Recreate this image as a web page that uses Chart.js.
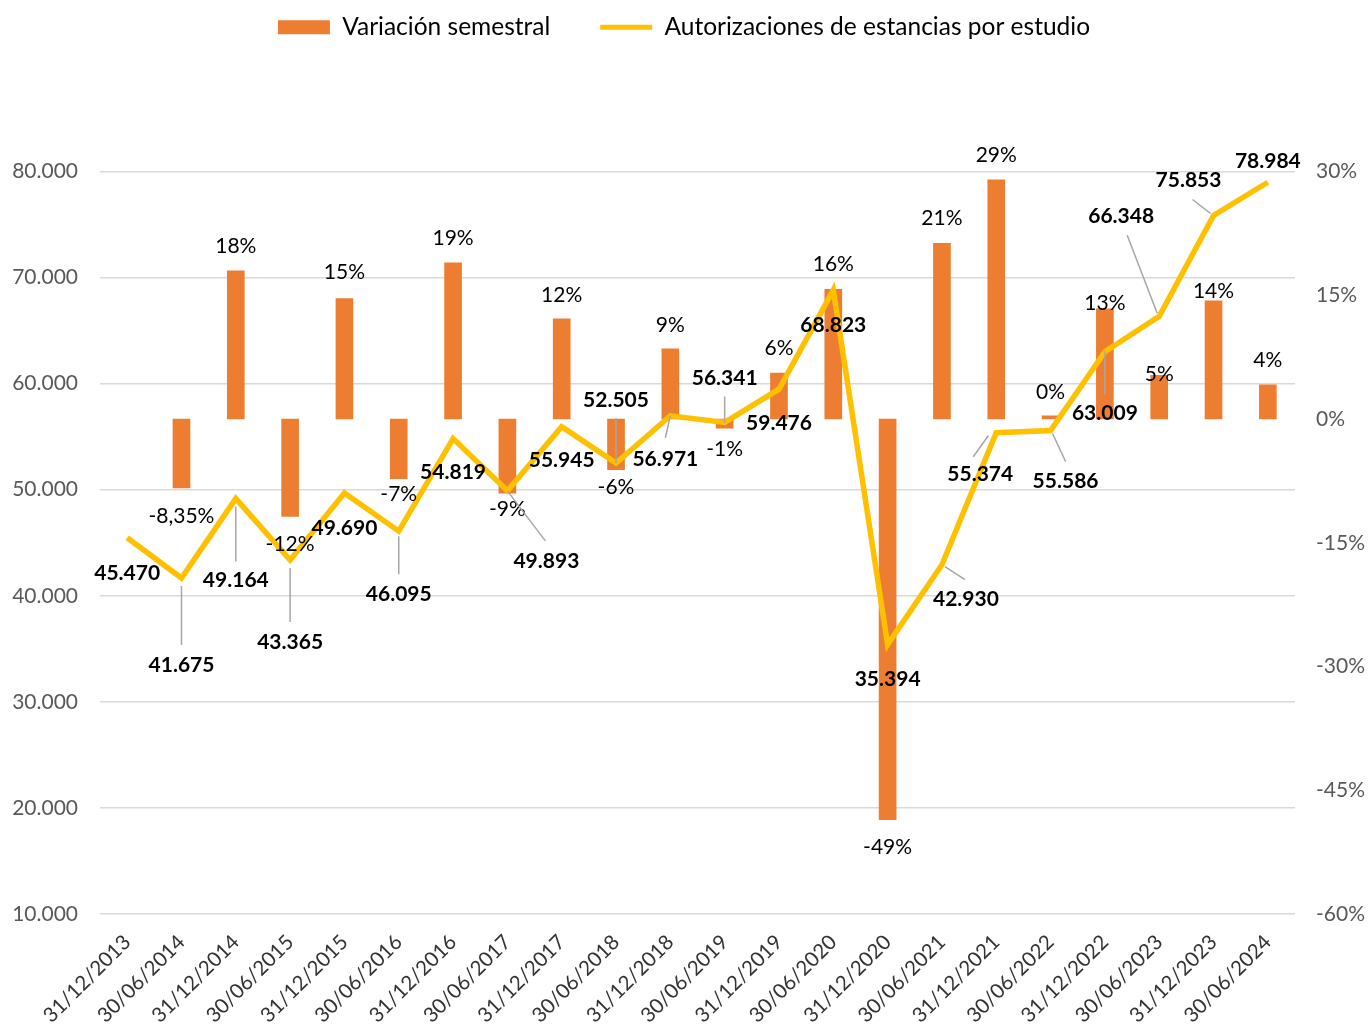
<!DOCTYPE html>
<html lang="es">
<head>
<meta charset="utf-8">
<title>Autorizaciones de estancias por estudio</title>
<script src="https://cdn.jsdelivr.net/npm/chart.js@4.4.1/dist/chart.umd.min.js"></script>
<style>
  html, body { margin: 0; padding: 0; background: #fff; }
  #wrap { width: 1368px; height: 1028px; position: relative; }
</style>
</head>
<body>
<div id="wrap"><canvas id="chart"></canvas></div>
<script>
// Fechas de corte semestrales
const periods = [
    '31/12/2013', '30/06/2014', '31/12/2014', '30/06/2015', '31/12/2015', '30/06/2016',
    '31/12/2016', '30/06/2017', '31/12/2017', '30/06/2018', '31/12/2018', '30/06/2019',
    '31/12/2019', '30/06/2020', '31/12/2020', '30/06/2021', '31/12/2021', '30/06/2022',
    '31/12/2022', '30/06/2023', '31/12/2023', '30/06/2024'
];

// Autorizaciones de estancias por estudio (eje izquierdo)
const authorizations = [
    45470, 41675, 49164, 43365, 49690, 46095, 54819, 49893, 55945, 52505, 56971,
    56341, 59476, 68823, 35394, 42930, 55374, 55586, 63009, 66348, 75853, 78984
];

// Variación semestral en % (eje derecho)
const semesterChange = [
    null, -8.35, 17.97, -11.80, 14.59, -7.23, 18.93, -8.99, 12.13, -6.15, 8.51,
    -1.11, 5.56, 15.72, -48.57, 21.29, 28.99, 0.38, 13.35, 5.30, 14.33, 4.13
];

const changeLabels = [
    '', '-8,35%', '18%', '-12%', '15%', '-7%', '19%', '-9%', '12%', '-6%', '9%',
    '-1%', '6%', '16%', '-49%', '21%', '29%', '0%', '13%', '5%', '14%', '4%'
];

const leftTicks = { min: 10000, max: 80000, step: 10000 };
const rightTicks = { min: -60, max: 30, step: 15 };

// Colores
const ORANGE = '#ED7D31';
const YELLOW = '#FFC000';
const LEADER = '#A6A6A6';
const FONT = 'Lato, "Open Sans", sans-serif';

// Posición de las etiquetas de la línea (desplazamiento respecto al punto)
const lineLabelOffset = [
    [0, 35], [0, 87], [0, 82], [0, 82], [0, 35], [0, 63], [0, 34], [39, 70], [0, 34], [0, -63], [-5, 43],
    [0, -44], [0, 34], [0, 35], [0, 35], [24, 35], [-16, 42], [15, 51], [0, 62], [-38, -100], [-25, -35], [0, -21]
];
// Líneas guía [dx1, dy1, dx2, dy2] respecto al punto
const lineLeader = {
    1: [0, 8, 0, 67], 2: [0, 8, 0, 63], 3: [0, 8, 0, 62], 5: [0, 5, 0, 43],
    7: [0, 0, 38, 50], 9: [0, 0, 0, -45], 10: [0, 0, -5, 22], 11: [0, 0, 0, -26],
    15: [3, 2, 23, 15], 16: [-8, 3, -23, 24], 17: [2, 3, 15, 31], 18: [0, 0, 0, 43],
    19: [-2, -3, -32, -81], 20: [-3, -2, -21, -16]
};
// Desplazamiento vertical de las etiquetas de barras respecto al extremo
const barLabelShift = [
    0, 28, -25, 28, -26, 16, -25, 16, -24, 17, -24,
    21, -25, -25, 28, -25, -25, -24, -6, -1, -10, -25
];

function thousands(v) {
    return String(v).replace(/\B(?=(\d{3})+(?!\d))/g, '.');
}

// Separación entre la leyenda y el área del gráfico
const legendGap = {
    id: 'legendGap',
    beforeLayout(chart) {
        const lg = chart.legend;
        if (lg && !lg._gapped) {
            const fit = lg.fit;
            lg.fit = function () { fit.call(this); this.height += 122; };
            lg._gapped = true;
        }
    }
};

// Etiquetas de datos al estilo Excel
const dataLabels = {
    id: 'dataLabels',
    afterDatasetsDraw(chart) {
        const ctx = chart.ctx;
        ctx.save();
        ctx.textAlign = 'center';
        ctx.textBaseline = 'middle';
        ctx.fillStyle = '#000';

        // barras
        const barMeta = chart.getDatasetMeta(0);
        ctx.font = '21px ' + FONT;
        barMeta.data.forEach((bar, i) => {
            const v = semesterChange[i];
            if (v === null) return;
            const y = (v >= 0 ? Math.min(bar.y, bar.base) : Math.max(bar.y, bar.base)) + barLabelShift[i];
            ctx.fillText(changeLabels[i], bar.x, y);
        });

        // línea
        const lineMeta = chart.getDatasetMeta(1);
        ctx.strokeStyle = LEADER;
        ctx.lineWidth = 1.5;
        lineMeta.data.forEach((pt, i) => {
            const ld = lineLeader[i];
            if (ld) {
                ctx.beginPath();
                ctx.moveTo(pt.x + ld[0], pt.y + ld[1]);
                ctx.lineTo(pt.x + ld[2], pt.y + ld[3]);
                ctx.stroke();
            }
        });
        ctx.font = 'bold 21px ' + FONT;
        lineMeta.data.forEach((pt, i) => {
            const off = lineLabelOffset[i];
            ctx.fillText(thousands(authorizations[i]), pt.x + off[0], pt.y + off[1]);
        });
        ctx.restore();
    }
};

new Chart(document.getElementById('chart'), {
    data: {
        labels: periods,
        datasets: [
            {
                type: 'bar',
                label: 'Variación semestral',
                data: semesterChange,
                backgroundColor: ORANGE,
                borderWidth: 0,
                barThickness: 17,
                yAxisID: 'y1',
                order: 1
            },
            {
                type: 'line',
                label: 'Autorizaciones de estancias por estudio',
                data: authorizations,
                borderColor: YELLOW,
                backgroundColor: YELLOW,
                borderWidth: 5.5,
                borderJoinStyle: 'miter',
                pointRadius: 0,
                tension: 0,
                yAxisID: 'y',
                order: 0
            }
        ]
    },
    options: {
        responsive: true,
        maintainAspectRatio: false,
        animation: false,
        layout: { padding: { top: -35, left: 0, right: 0, bottom: 0 } },
        plugins: {
            tooltip: { enabled: false },
            legend: {
                position: 'top',
                labels: {
                    usePointStyle: true,
                    pointStyleWidth: 52,
                    boxHeight: 14,
                    padding: 50,
                    color: '#000',
                    font: { family: FONT, size: 24.5 },
                    generateLabels: () => [
                        { text: 'Variación semestral', fillStyle: ORANGE, strokeStyle: ORANGE, lineWidth: 0, pointStyle: 'rect', datasetIndex: 0, hidden: false, fontColor: '#000' },
                        { text: 'Autorizaciones de estancias por estudio', fillStyle: YELLOW, strokeStyle: YELLOW, lineWidth: 5, pointStyle: 'line', datasetIndex: 1, hidden: false, fontColor: '#000' }
                    ]
                }
            }
        },
        scales: {
            x: {
                grid: { display: false },
                border: { display: false },
                afterFit: (scale) => { scale.height = 114; },
                ticks: {
                    autoSkip: false,
                    minRotation: 45,
                    maxRotation: 45,
                    padding: 8,
                    color: '#333',
                    font: { family: FONT, size: 20.5 }
                }
            },
            y: {
                position: 'left',
                min: leftTicks.min,
                max: leftTicks.max,
                afterFit: (scale) => { scale.width = 100; },
                grid: { color: '#D9D9D9', lineWidth: 1.5, drawTicks: false },
                border: { display: false },
                ticks: {
                    stepSize: leftTicks.step,
                    padding: 22,
                    color: '#595959',
                    font: { family: FONT, size: 21 },
                    callback: (v) => thousands(v)
                }
            },
            y1: {
                position: 'right',
                min: rightTicks.min,
                max: rightTicks.max,
                afterFit: (scale) => { scale.width = 73; },
                grid: { display: false, drawTicks: false },
                border: { display: false },
                ticks: {
                    stepSize: rightTicks.step,
                    padding: 21,
                    color: '#595959',
                    font: { family: FONT, size: 21 },
                    callback: (v) => v + '%'
                }
            }
        }
    },
    plugins: [legendGap, dataLabels]
});
</script>
</body>
</html>
